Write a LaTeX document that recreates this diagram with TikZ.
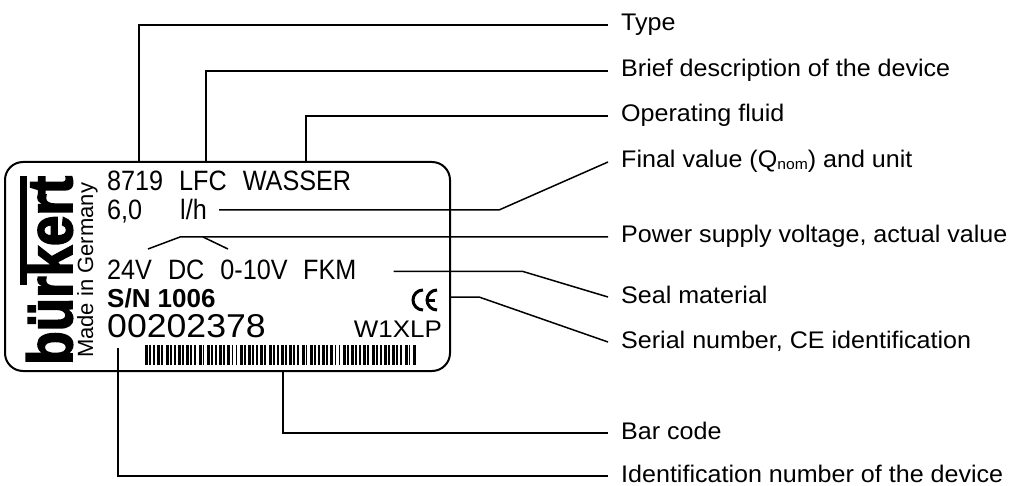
\documentclass[tikz,border=0pt]{standalone}
\usepackage{fontspec}
\setmainfont{Liberation Sans}
\newfontfamily\platefont[FakeStretch=0.9]{Liberation Sans}
\newfontfamily\widefont[FakeStretch=1.08]{Liberation Sans}
\newfontfamily\descfont[FakeStretch=1.045]{Liberation Sans}
\newfontfamily\logofont[FakeBold=3]{Liberation Sans Bold}
\usepackage{graphicx}
\usepackage{tikz}
\tikzstyle{labelplate} = [draw=black, line width=2pt, rectangle,
    rounded corners=18pt, inner sep=0pt]
\tikzstyle{platetext} = [anchor=base west, inner sep=0pt,
    font=\platefont\fontsize{28}{28}\selectfont]
\tikzstyle{desctext} = [anchor=west, inner xsep=13pt, inner ysep=0pt,
    text height=15pt, text depth=3pt, font=\descfont\fontsize{24}{24}\selectfont]
\tikzstyle{leader} = [line width=1.5pt, line join=miter]

\begin{document}
\begin{tikzpicture}[x=1pt, y=-1pt]
    \useasboundingbox (0,0) rectangle (1011,486);
    \node [labelplate, minimum width=445pt, minimum height=209pt] (plate) at (227.5,266.5) {};

    \node [rotate=90, anchor=base west, inner sep=0pt,
        font=\logofont\fontsize{63}{63}\selectfont] (logo) at (72,365) {\scalebox{0.87}[1]{b\"urkert}};
    \fill (20,176) rectangle (27,285);
    \node [rotate=90, anchor=base west, inner sep=0pt,
        font=\fontsize{22}{22}\selectfont] (made) at (93,358) {Made in Germany};

    \node [platetext] (type) at (107,191) {8719\hspace{16pt}LFC\hspace{16pt}WASSER};
    \node [platetext] (value) at (107,220) {6,0};
    \node [platetext] (unit) at (180,220) {l/h};
    \node [platetext] (supply) at (107,279) {24V\hspace{16pt}DC\hspace{16pt}0-10V};
    \node [platetext] (seal) at (303,279) {FKM};
    \node [platetext, font=\bfseries\fontsize{26}{26}\selectfont] (serial) at (107,307) {S/N 1006};
    \node [platetext, font=\widefont\fontsize{33}{33}\selectfont] (ident) at (107,337) {00202378};
    \node [platetext, anchor=base east, font=\widefont\fontsize{24}{24}\selectfont] (code) at (442,337) {W1XLP};

    \draw [line width=3pt] (423,310) arc[start angle=90, end angle=270, radius=10];
    \draw [line width=3pt] (437,310) arc[start angle=90, end angle=270, radius=10];
    \draw [line width=3pt] (428,300) -- (435,300);

    \foreach \i in {0,...,65}{
        \pgfmathsetmacro\bw{mod(\i*7,5)<2 ? 3 : 1.8}
        \fill (145+\i*4.12,345) rectangle ++(\bw,20);
    }

    \node [desctext] (dtype) at (608,25) {Type};
    \node [desctext] (dbrief) at (608,71) {Brief description of the device};
    \node [desctext] (dfluid) at (608,116) {Operating fluid};
    \node [desctext] (dfinal) at (608,162) {Final value (Q\raisebox{-2pt}{\fontsize{15}{15}\selectfont nom}) and unit};
    \node [desctext] (dsupply) at (608,237) {Power supply voltage, actual value};
    \node [desctext] (dseal) at (608,297) {Seal material};
    \node [desctext] (dserial) at (608,342) {Serial number, CE identification};
    \node [desctext] (dbar) at (608,433) {Bar code};
    \node [desctext] (dident) at (608,476) {Identification number of the device};

    \draw [leader] (plate.north -| 139,0) |- (dtype.west);
    \draw [leader] (plate.north -| 206,0) |- (dbrief.west);
    \draw [leader] (plate.north -| 306,0) |- (dfluid.west);
    \draw [leader] ([xshift=12pt]unit.east) -- ++(280,0) -- (dfinal.west);
    \draw [leader] (148,249) -- (dsupply.west -| 180,0) -- (dsupply.west);
    \draw [leader] (dsupply.west -| 203,0) -- (228,249);
    \draw [leader] ([shift={(37,2)}]seal.east) -- ++(129,0) -- (dseal.west);
    \draw [leader] (plate.east |- 0,297) -- ++(28,0) -- (dserial.west);
    \draw [leader] (plate.south -| 283,0) |- (dbar.west);
    \draw [leader] ([shift={(11,10)}]ident.south west) |- (dident.west);
\end{tikzpicture}
\end{document}
